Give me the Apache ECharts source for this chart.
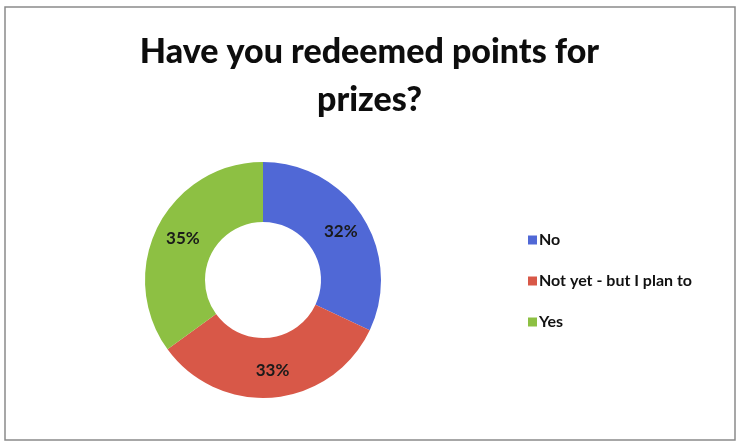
<!DOCTYPE html>
<html>
<head>
<meta charset="utf-8">
<script src="https://cdn.jsdelivr.net/npm/echarts@6/dist/echarts.min.js"></script>
<style>
  html, body { margin: 0; padding: 0; background: #ffffff; }
  #chart { width: 739px; height: 442px; }
</style>
</head>
<body>
<div id="chart"></div>
<script>
// Survey answers and their shares (percent)
const categories = ['No', 'Not yet - but I plan to', 'Yes'];
const shares = [32, 33, 35];
const sliceColors = ['#5068d6', '#d85848', '#8dc043'];
const titleText = 'Have you redeemed points for\nprizes?';

const chart = echarts.init(document.getElementById('chart'), null, { renderer: 'canvas' });

const FONT = 'Lato, "Open Sans", sans-serif';

chart.setOption({
  backgroundColor: '#ffffff',
  animation: false,
  title: {
    text: titleText,
    left: 'center',
    top: 28,
    padding: [0, 0, 0, 22],
    textStyle: {
      fontFamily: FONT,
      fontWeight: 900,
      fontSize: 34,
      lineHeight: 48,
      color: '#0d0d0d'
    }
  },
  legend: {
    orient: 'vertical',
    left: 523,
    top: 226,
    itemWidth: 9,
    itemHeight: 9,
    itemGap: 23,
    icon: 'rect',
    data: categories,
    textStyle: {
      fontFamily: FONT,
      fontWeight: 'bold',
      fontSize: 16,
      lineHeight: 18,
      color: '#111111',
      padding: [0, 0, 0, -3]
    }
  },
  graphic: [{
    type: 'rect',
    shape: { x: 5, y: 7, width: 730, height: 433 },
    style: { fill: 'none', stroke: '#8a8a8a', lineWidth: 1.5 },
    silent: true,
    z: -1
  }],
  series: [{
    type: 'pie',
    center: [263, 280],
    radius: [58, 118],
    startAngle: 90,
    clockwise: true,
    avoidLabelOverlap: false,
    label: {
      show: true,
      position: 'inside',
      formatter: '{c}%',
      fontFamily: FONT,
      fontWeight: 'bold',
      fontSize: 17,
      color: '#1a1a1a',
      padding: [7, 0, 0, 2]
    },
    labelLine: { show: false },
    itemStyle: { borderWidth: 0 },
    emphasis: { disabled: true },
    data: categories.map((name, i) => ({
      name: name,
      value: shares[i],
      itemStyle: { color: sliceColors[i] }
    }))
  }]
});
</script>
</body>
</html>
